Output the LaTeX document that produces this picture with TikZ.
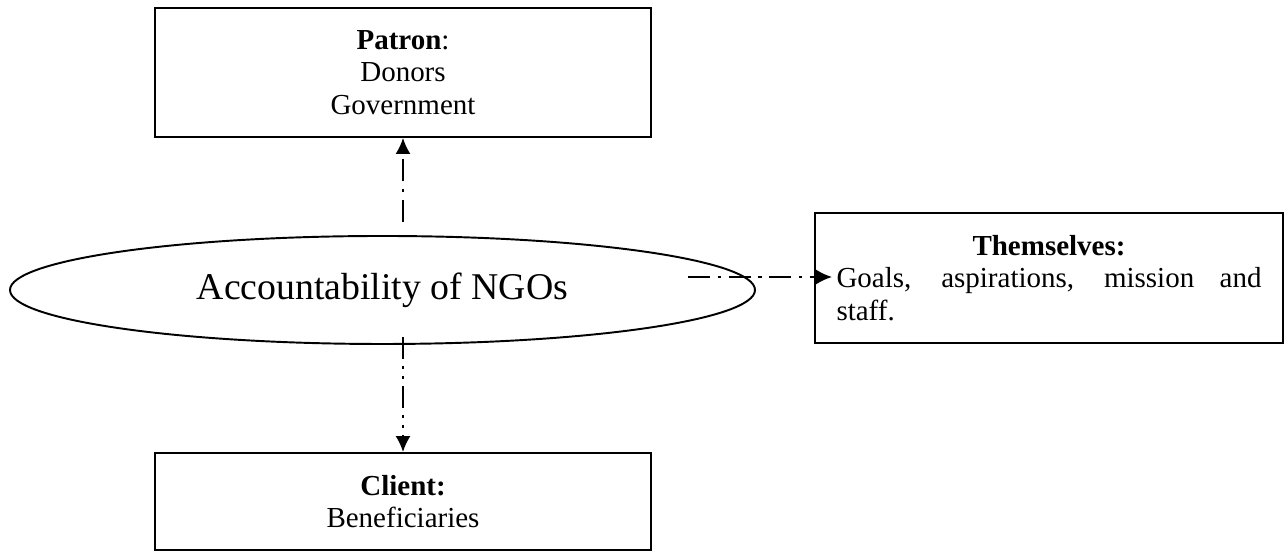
\documentclass[tikz,border=0pt]{standalone}
\usepackage{fontspec}
\setmainfont{Liberation Serif}
\usetikzlibrary{shapes.geometric,arrows.meta}

\tikzset{
	party/.style={draw,line width=1.1pt,align=center,minimum width=9.92cm,font=\fontsize{16.5}{18.5}\selectfont},
	link/.style={line width=1.1pt,-{Latex[length=3.2mm,width=3mm]}},
	dashdot/.style={dash pattern=on 4.4mm off 1.5mm on .7mm off 1.5mm},
	dashdotdot/.style={dash pattern=on 4.4mm off 1.4mm on .6mm off 1.4mm on .6mm off 1.4mm},
}

\begin{document}
\begin{tikzpicture}
\useasboundingbox (0,0) rectangle (25.7,11.04);

\node[ellipse,draw,line width=1.1pt,minimum width=14.9cm,minimum height=2.16cm,inner sep=0pt,font=\fontsize{21.5}{24}\selectfont] (ngo) at (7.65,5.24) {Accountability of NGOs};

\node[party,minimum height=2.58cm] (patron) at (8.06,9.59) {\textbf{Patron}:\\Donors\\Government};
\node[party,minimum height=1.94cm] (client) at (8.06,1.01) {\textbf{Client:}\\Beneficiaries};
\node[party,align=justify,text width=8.5cm,minimum width=9.36cm,inner xsep=.43cm,minimum height=2.6cm] (self) at (20.98,5.48) {{\centering\textbf{Themselves:}\par}\noindent Goals, aspirations, mission and\linebreak staff.};

\coordinate (ngo up) at (8.06,6.6);
\coordinate (ngo down) at (8.06,4.3);
\coordinate (ngo right) at (13.76,5.5);

\draw[link,dashdot] (ngo up) -- (patron.south);
\draw[link,dashdotdot] (ngo down) -- (client.north);
\draw[link,dashdot,shorten >=-3.6mm] (ngo right) -- (ngo right -| self.west);
\end{tikzpicture}
\end{document}
